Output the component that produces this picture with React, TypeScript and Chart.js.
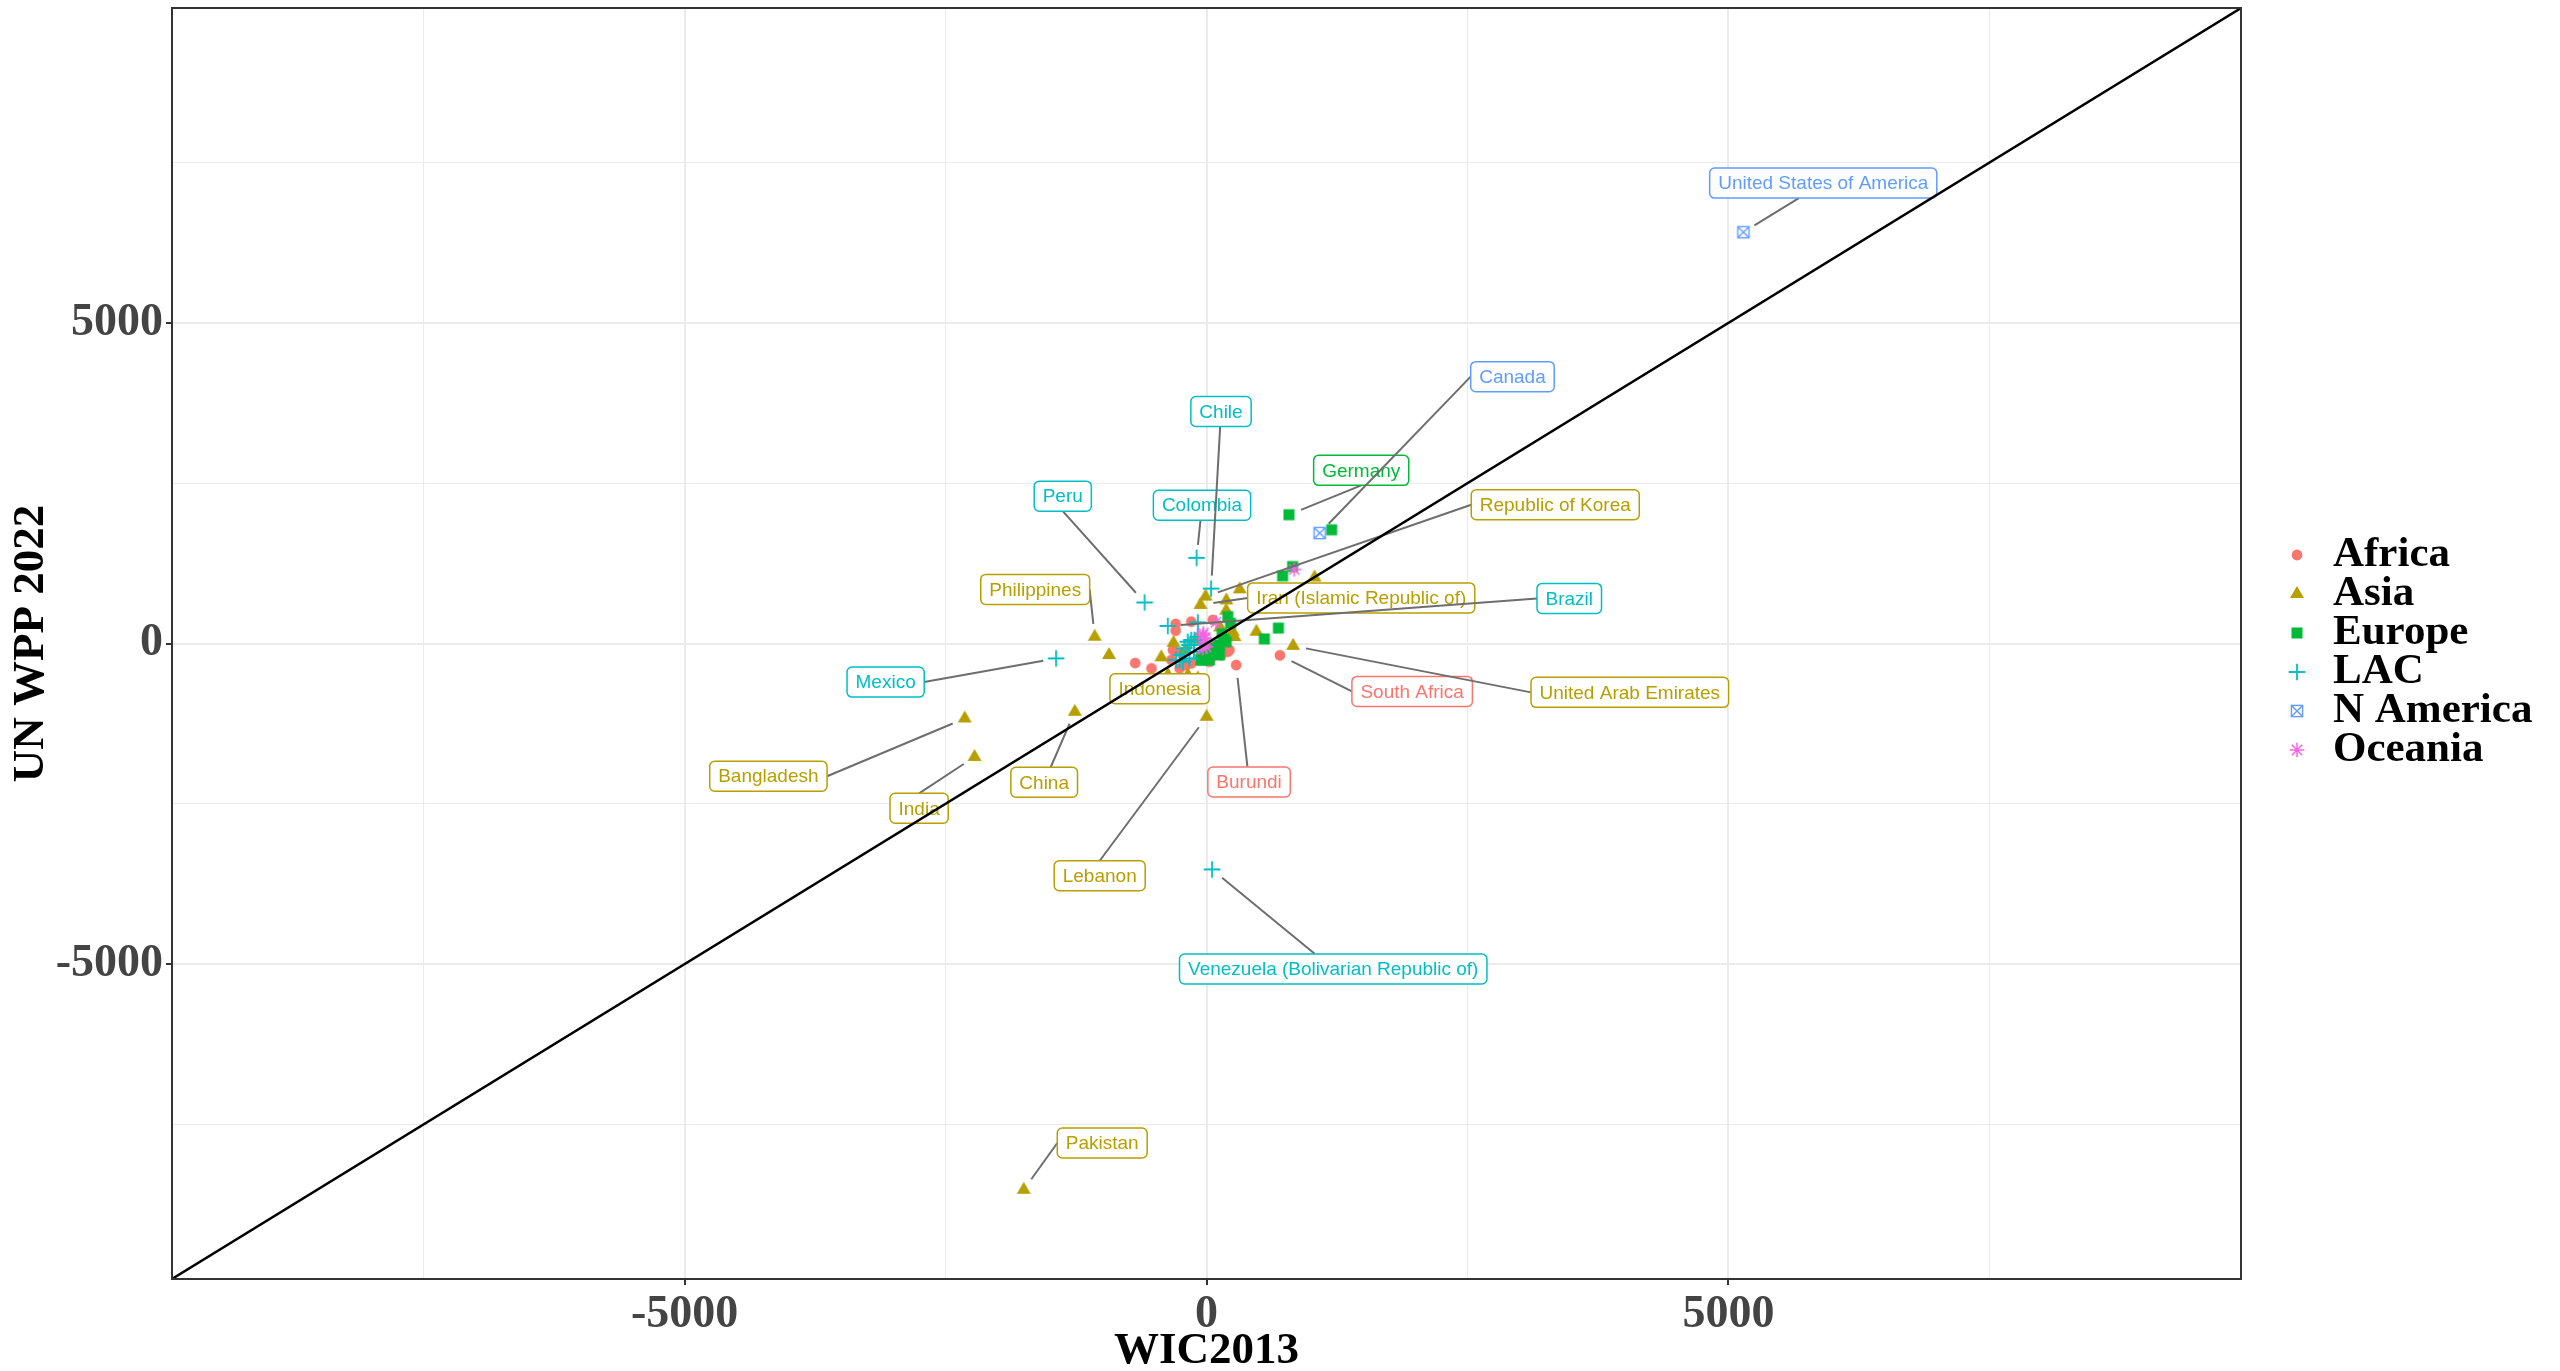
import React, { useEffect, useRef } from "react";
import { Chart, registerables } from "chart.js";

Chart.register(...registerables);

// ---------- categories ----------
const REGIONS = ["Africa", "Asia", "Europe", "LAC", "N America", "Oceania"];
const REGION_COLORS = ["#F8766D", "#B79F00", "#00BA38", "#00BFC4", "#619CFF", "#F564E3"];
const REGION_SHAPES = ["circle", "triangle", "square", "plus", "boxX", "asterisk"];

// ---------- unlabelled countries: [WIC2013, UN WPP 2022] ----------
const africaPoints = [
  [-683, -305], [-527, -388], [-296, 305], [-296, 200], [-146, 341], [60, 367],
  [-322, -102], [-337, -258], [-258, -388], [-194, -336], [29, -284], [141, -180],
  [204, -128], [220, -102], [-146, -309], [-60, -200], [100, -60], [-20, -100],
  [60, -150], [-240, -150],
];
const asiaPoints = [
  [-934, -180], [-433, -216], [-316, 10], [-370, -492], [-83, -544], [190, 672],
  [318, 845], [1035, 1030], [478, 184], [268, 100], [251, 184], [188, 513],
  [-100, 60], [60, -60], [-200, -100], [130, 250],
];
const europePoints = [
  [1199, 1773], [729, 1055], [825, 1200], [689, 240], [554, 72], [204, 419],
  [230, 314], [172, 56], [124, -23], [92, -127], [-5, -206], [-53, -258],
  [27, -258], [188, 28], [124, -180], [92, -102], [60, -50], [150, 150],
  [-37, -258], [20, -150],
];
const lacPoints = [
  [-83, 330], [-180, 28], [-212, -75], [-242, -180], [-290, -258], [-227, -284],
  [-163, -231], [-146, 55], [-163, -23], [-258, -258], [-120, -130], [-60, -20],
  [-83, 106], [-115, 55],
];
const nAmericaPoints: number[][] = [];
const oceaniaPoints = [
  [841, 1154], [90, 330], [-35, 133], [-19, 81], [-3, -50], [-29, 159], [-3, 28], [-35, -75],
];
const REGION_POINTS = [africaPoints, asiaPoints, europePoints, lacPoints, nAmericaPoints, oceaniaPoints];

// ---------- labelled countries (drawing order) ----------
const labelNames = [
  "Germany", "Colombia", "Iran (Islamic Republic of)", "Philippines", "Peru",
  "Republic of Korea", "Mexico", "Indonesia", "South Africa", "United Arab Emirates",
  "Bangladesh", "India", "China", "Burundi", "Lebanon",
  "Venezuela (Bolivarian Republic of)", "Pakistan", "United States of America",
  "Canada", "Chile", "Brazil",
];
const labelRegions = [
  "Europe", "LAC", "Asia", "Asia", "LAC",
  "Asia", "LAC", "Asia", "Africa", "Asia",
  "Asia", "Asia", "Asia", "Africa", "Asia",
  "LAC", "Asia", "N America",
  "N America", "LAC", "LAC",
];
const labelWIC = [
  790, -95, -58, -1071, -593,
  -9, -1441, -179, 703, 830,
  -2316, -2222, -1262, 284, 1,
  53, -1751, 5143,
  1084, 44, -371,
];
const labelUN = [
  2008, 1336, 602, 106, 640,
  731, -232, -492, -185, -37,
  -1169, -1768, -1065, -336, -1143,
  -3523, -8519, 6414,
  1722, 856, 273,
];
// label box centres, in data units
const labelAtWIC = [
  1482, -43, 1482, -1641, -1377,
  3341, -3074, -449, 1970, 4055,
  -4197, -2753, -1555, 408, -1023,
  1214, -999, 5908,
  2931, 139, 3475,
];
const labelAtUN = [
  2700, 2156, 711, 844, 2298,
  2164, -602, -706, -747, -762,
  -2070, -2570, -2164, -2159, -3622,
  -5075, -7789, 7180,
  4161, 3617, 703,
];

const AXIS_MIN = -9910;
const AXIS_MAX = 9910;
const MAJOR_TICKS = [-5000, 0, 5000];
const GRID_TICKS = [-7500, -5000, -2500, 0, 2500, 5000, 7500];

// ---------- drawing helpers ----------
function makeShape(kind: string, color: string): HTMLCanvasElement {
  const c = document.createElement("canvas");
  const size = 20;
  c.width = size;
  c.height = size;
  const g = c.getContext("2d") as CanvasRenderingContext2D;
  const m = size / 2;
  g.fillStyle = color;
  g.strokeStyle = color;
  if (kind === "circle") {
    g.beginPath();
    g.arc(m, m, 5.4, 0, Math.PI * 2);
    g.fill();
  } else if (kind === "triangle") {
    const s = 14;
    const h = (s * Math.sqrt(3)) / 2;
    g.beginPath();
    g.moveTo(m, m - (2 * h) / 3);
    g.lineTo(m + s / 2, m + h / 3);
    g.lineTo(m - s / 2, m + h / 3);
    g.closePath();
    g.fill();
  } else if (kind === "square") {
    g.fillRect(m - 5.5, m - 5.5, 11, 11);
  } else if (kind === "plus") {
    g.lineWidth = 1.8;
    g.beginPath();
    g.moveTo(m - 8.3, m);
    g.lineTo(m + 8.3, m);
    g.moveTo(m, m - 8.3);
    g.lineTo(m, m + 8.3);
    g.stroke();
  } else if (kind === "boxX") {
    g.lineWidth = 1.4;
    const r = 5.6;
    g.strokeRect(m - r, m - r, 2 * r, 2 * r);
    g.beginPath();
    g.moveTo(m - r, m - r);
    g.lineTo(m + r, m + r);
    g.moveTo(m + r, m - r);
    g.lineTo(m - r, m + r);
    g.stroke();
  } else if (kind === "asterisk") {
    g.lineWidth = 1.5;
    const r = 7.3;
    g.beginPath();
    for (let k = 0; k < 4; k++) {
      const a = (k * Math.PI) / 4;
      g.moveTo(m - r * Math.cos(a), m - r * Math.sin(a));
      g.lineTo(m + r * Math.cos(a), m + r * Math.sin(a));
    }
    g.stroke();
  }
  return c;
}

function roundRect(ctx: CanvasRenderingContext2D, x: number, y: number, w: number, h: number, r: number) {
  ctx.beginPath();
  ctx.moveTo(x + r, y);
  ctx.lineTo(x + w - r, y);
  ctx.arcTo(x + w, y, x + w, y + r, r);
  ctx.lineTo(x + w, y + h - r);
  ctx.arcTo(x + w, y + h, x + w - r, y + h, r);
  ctx.lineTo(x + r, y + h);
  ctx.arcTo(x, y + h, x, y + h - r, r);
  ctx.lineTo(x, y + r);
  ctx.arcTo(x, y, x + r, y, r);
  ctx.closePath();
}

// where a repel segment meets its label box
function connectionPoint(px: number, py: number, x1: number, y1: number, x2: number, y2: number) {
  const cx = (x1 + x2) / 2;
  const cy = (y1 + y2) / 2;
  const inX = px >= x1 && px <= x2;
  const inY = py >= y1 && py <= y2;
  if (inX && inY) return null;
  if (inX) {
    const ey = py < y1 ? y1 : y2;
    const t = (ey - py) / (cy - py);
    return [px + t * (cx - px), ey];
  }
  if (inY) return [px < x1 ? x1 : x2, cy];
  const ex = px < x1 ? x1 : x2;
  const ey = py < y1 ? y1 : y2;
  const dx = Math.abs(px - ex);
  const dy = Math.abs(py - ey);
  if (dx > dy || dx < 10) return [ex, cy];
  return [cx, ey];
}

const LABEL_FONT = '19px "Liberation Sans", Arial, Helvetica, sans-serif';
const SERIF = '"Liberation Serif", "Times New Roman", Times, serif';

export default function App() {
  const canvasRef = useRef<HTMLCanvasElement | null>(null);

  useEffect(() => {
    const canvas = canvasRef.current;
    if (!canvas) return;
    const shapes = REGIONS.map((_, i) => makeShape(REGION_SHAPES[i], REGION_COLORS[i]));

    const datasets: any[] = REGIONS.map((region, i) => {
      const pts = REGION_POINTS[i].map((p) => ({ x: p[0], y: p[1] }));
      labelNames.forEach((_, j) => {
        if (labelRegions[j] === region) pts.push({ x: labelWIC[j], y: labelUN[j] });
      });
      return {
        label: region,
        data: pts,
        pointStyle: shapes[i],
        pointRadius: 6,
        backgroundColor: REGION_COLORS[i],
        borderColor: REGION_COLORS[i],
        showLine: false,
        order: REGIONS.length - i,
      };
    });
    const lineIndex = datasets.length;
    datasets.push({
      type: "line",
      label: "identity",
      data: [
        { x: AXIS_MIN, y: AXIS_MIN },
        { x: AXIS_MAX, y: AXIS_MAX },
      ],
      borderColor: "#000000",
      borderWidth: 2.4,
      pointRadius: 0,
      showLine: true,
      fill: false,
      order: 0,
    });

    const labelPlugin = {
      id: "repelLabels",
      beforeDatasetDraw(chart: any, args: any) {
        if (args.index !== lineIndex) return;
        const ctx: CanvasRenderingContext2D = chart.ctx;
        const xs = chart.scales.x;
        const ys = chart.scales.y;
        ctx.save();
        ctx.font = LABEL_FONT;
        labelNames.forEach((name, i) => {
          const color = REGION_COLORS[REGIONS.indexOf(labelRegions[i])];
          const px = xs.getPixelForValue(labelWIC[i]);
          const py = ys.getPixelForValue(labelUN[i]);
          const cx = xs.getPixelForValue(labelAtWIC[i]);
          const cy = ys.getPixelForValue(labelAtUN[i]);
          const tw = ctx.measureText(name).width;
          const w = tw + 17;
          const h = 30;
          const x1 = cx - w / 2;
          const x2 = cx + w / 2;
          const y1 = cy - h / 2;
          const y2 = cy + h / 2;
          const e = connectionPoint(px, py, x1, y1, x2, y2);
          if (e) {
            const [ex, ey] = e;
            const dist = Math.hypot(ex - px, ey - py);
            const gap = 13;
            if (dist > gap + 4) {
              const sx = px + ((ex - px) * gap) / dist;
              const sy = py + ((ey - py) * gap) / dist;
              ctx.strokeStyle = "#6E6E6E";
              ctx.lineWidth = 2;
              ctx.beginPath();
              ctx.moveTo(sx, sy);
              ctx.lineTo(ex, ey);
              ctx.stroke();
            }
          }
          roundRect(ctx, x1, y1, w, h, 5);
          ctx.fillStyle = "#FFFFFF";
          ctx.fill();
          ctx.strokeStyle = color;
          ctx.lineWidth = 1.5;
          ctx.stroke();
          ctx.fillStyle = color;
          ctx.textAlign = "center";
          ctx.textBaseline = "middle";
          ctx.fillText(name, cx, cy + 1);
        });
        ctx.restore();
      },
      afterDraw(chart: any) {
        const ctx: CanvasRenderingContext2D = chart.ctx;
        const a = chart.chartArea;
        ctx.save();
        ctx.strokeStyle = "#333333";
        ctx.lineWidth = 2;
        ctx.strokeRect(a.left, a.top, a.right - a.left, a.bottom - a.top);
        ctx.font = `bold 43px ${SERIF}`;
        ctx.fillStyle = "#000000";
        ctx.textAlign = "left";
        ctx.textBaseline = "middle";
        REGIONS.forEach((r, i) => {
          const yRow = 555 + i * 39;
          const img = shapes[i];
          ctx.drawImage(img, 2297 - img.width / 2, yRow - img.height / 2);
          ctx.fillText(r, 2333, yRow);
        });
        ctx.restore();
      },
    };

    const isMajor = (v: number) => MAJOR_TICKS.includes(v);

    const chart = new Chart(canvas, {
      type: "scatter",
      data: { datasets },
      plugins: [labelPlugin],
      options: {
        animation: false,
        responsive: true,
        maintainAspectRatio: false,
        devicePixelRatio: 1,
        events: [],
        layout: { padding: { left: 0, right: 319, top: 8, bottom: 0 } },
        plugins: {
          legend: { display: false },
          tooltip: { enabled: false },
        },
        scales: {
          x: {
            type: "linear",
            min: AXIS_MIN,
            max: AXIS_MAX,
            afterBuildTicks: (scale: any) => {
              scale.ticks = GRID_TICKS.map((v) => ({ value: v }));
            },
            afterFit: (scale: any) => {
              scale.height = 92;
              scale.paddingLeft = 0;
              scale.paddingRight = 0;
              scale.paddingTop = 0;
              scale.paddingBottom = 0;
            },
            ticks: {
              autoSkip: false,
              maxRotation: 0,
              minRotation: 0,
              padding: 3,
              color: "#444444",
              font: { family: SERIF, size: 46, weight: "bold" },
              callback: (v: any) => (isMajor(Number(v)) ? String(v) : ""),
            },
            grid: {
              color: "#EBEBEB",
              lineWidth: (c: any) => (c.tick && isMajor(c.tick.value) ? 2 : 1),
              drawTicks: true,
              tickLength: 6,
              tickWidth: 2,
              tickColor: (c: any) => (c.tick && isMajor(c.tick.value) ? "#333333" : "rgba(0,0,0,0)"),
            },
            border: { display: false },
            title: {
              display: true,
              text: "WIC2013",
              color: "#000000",
              padding: { top: 0, bottom: -3 },
              font: { family: SERIF, size: 45, weight: "bold", lineHeight: 1 },
            },
          },
          y: {
            type: "linear",
            min: AXIS_MIN,
            max: AXIS_MAX,
            afterBuildTicks: (scale: any) => {
              scale.ticks = GRID_TICKS.map((v) => ({ value: v }));
            },
            afterFit: (scale: any) => {
              scale.width = 172;
              scale.paddingLeft = 0;
              scale.paddingRight = 0;
              scale.paddingTop = 0;
              scale.paddingBottom = 0;
            },
            ticks: {
              autoSkip: false,
              padding: 3,
              color: "#444444",
              font: { family: SERIF, size: 46, weight: "bold" },
              callback: (v: any) => (isMajor(Number(v)) ? String(v) : ""),
            },
            grid: {
              color: "#EBEBEB",
              lineWidth: (c: any) => (c.tick && isMajor(c.tick.value) ? 2 : 1),
              drawTicks: true,
              tickLength: 6,
              tickWidth: 2,
              tickColor: (c: any) => (c.tick && isMajor(c.tick.value) ? "#333333" : "rgba(0,0,0,0)"),
            },
            border: { display: false },
            title: {
              display: true,
              text: "UN WPP 2022",
              color: "#000000",
              padding: { top: 9, bottom: 0 },
              font: { family: SERIF, size: 45, weight: "bold", lineHeight: 1 },
            },
          },
        },
      } as any,
    });

    return () => {
      chart.destroy();
    };
  }, []);

  return (
    <div style={{ position: "fixed", left: 0, top: 0, width: 2560, height: 1371, background: "#FFFFFF" }}>
      <canvas ref={canvasRef} />
    </div>
  );
}
